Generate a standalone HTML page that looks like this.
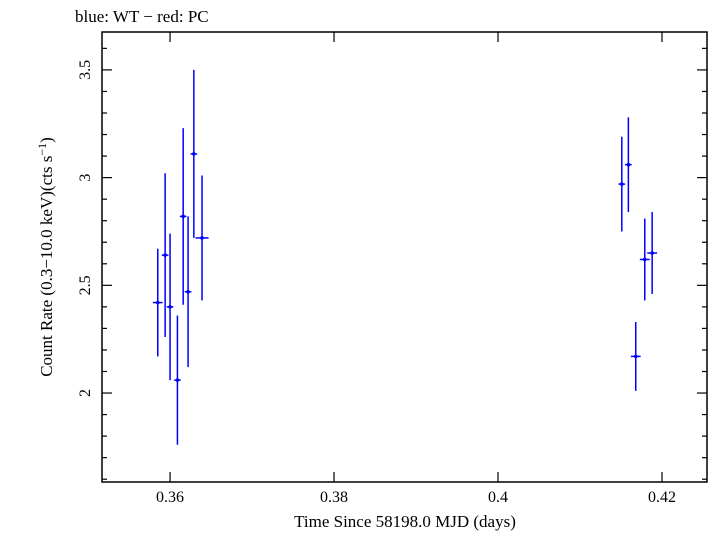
<!DOCTYPE html>
<html><head><meta charset="utf-8"><style>
body{margin:0;background:#fff;}
svg text{font-family:"Liberation Serif",serif;fill:#000;}
</style></head><body>
<svg id="chart" width="709" height="532" viewBox="0 0 709 532" xmlns="http://www.w3.org/2000/svg">
<text x="75" y="22" font-size="17">blue: WT − red: PC</text>
<text x="405" y="527" font-size="17" text-anchor="middle">Time Since 58198.0 MJD (days)</text>
<text transform="translate(52,257) rotate(-90)" font-size="17" text-anchor="middle">Count Rate (0.3−10.0 keV)(cts s<tspan font-size="12" dy="-6">−1</tspan><tspan dy="6">)</tspan></text>
<g id="axes"></g>
<g id="marks"></g>
</svg>
<script>
const times=[0.3585,0.3594,0.3600,0.3609,0.3616,0.3622,0.3629,0.3639,0.4151,0.4159,0.4168,0.4179,0.4188];
const rates=[2.42,2.64,2.40,2.06,2.82,2.47,3.11,2.72,2.97,3.06,2.17,2.62,2.65];
const rateErr=[0.25,0.38,0.34,0.30,0.41,0.35,0.39,0.29,0.22,0.22,0.16,0.19,0.19];
const timeErr=[0.0006,0.0004,0.0004,0.0004,0.0004,0.0004,0.0004,0.0008,0.0004,0.0004,0.0006,0.0006,0.0006];
const xTicks=[0.36,0.38,0.40,0.42];
const xTickLabels=["0.36","0.38","0.4","0.42"];
const yTicks=[2,2.5,3,3.5];
const yTickLabels=["2","2.5","3","3.5"];

const L=102,R=707,T=32,B=482;
const xMin=0.3517,xMax=0.42549,yMin=1.587,yMax=3.676;
const X=v=>L+(v-xMin)/(xMax-xMin)*(R-L);
const Y=v=>B-(v-yMin)/(yMax-yMin)*(B-T);
const NS="http://www.w3.org/2000/svg";
function mk(tag,attrs,parent){const e=document.createElementNS(NS,tag);for(const k in attrs)e.setAttribute(k,attrs[k]);parent.appendChild(e);return e;}
const ax=document.getElementById('axes'),mg=document.getElementById('marks');
const frame=mk('rect',{x:L,y:T,width:R-L,height:B-T,fill:'none',stroke:'#000','stroke-width':1.5},ax);


xTicks.forEach((t,i)=>{const x=X(t);
 const a=mk('line',{x1:x,x2:x,y1:B,y2:B-10,stroke:'#000','stroke-width':1.2},ax);
 
 
 const b=mk('line',{x1:x,x2:x,y1:T,y2:T+10,stroke:'#000','stroke-width':1.2},ax);
 
 
 const tx=mk('text',{x:x,y:B+20,'font-size':16,'text-anchor':'middle'},ax);tx.textContent=xTickLabels[i];
 
 
});
for(let k=16;k<=36;k++){const v=k/10;const y=Y(v);if(y<T||y>B)continue;
 const major=(k%5===0);const len=major?10:5;
 const a=mk('line',{x1:L,x2:L+len,y1:y,y2:y,stroke:'#000','stroke-width':1.2},ax);
 
 
 const b=mk('line',{x1:R,x2:R-len,y1:y,y2:y,stroke:'#000','stroke-width':1.2},ax);
 
 
}
yTicks.forEach((t,i)=>{const y=Y(t);
 const tx=mk('text',{transform:`translate(${L-12},${y}) rotate(-90)`,'font-size':16,'text-anchor':'middle'},ax);tx.textContent=yTickLabels[i];
 
 
});
times.forEach((t,i)=>{const x=X(t),y=Y(rates[i]);
 const g=mk('g',{stroke:'#0000ff','stroke-width':1.5},mg);
 
 
 mk('line',{x1:x,x2:x,y1:Y(rates[i]+rateErr[i]),y2:Y(rates[i]-rateErr[i])},g);
 mk('line',{x1:X(t-timeErr[i]),x2:X(t+timeErr[i]),y1:y,y2:y},g);
 mk('circle',{cx:x,cy:y,r:1.8,fill:'#0000ff',stroke:'none'},g);
});
</script>
</body></html>
